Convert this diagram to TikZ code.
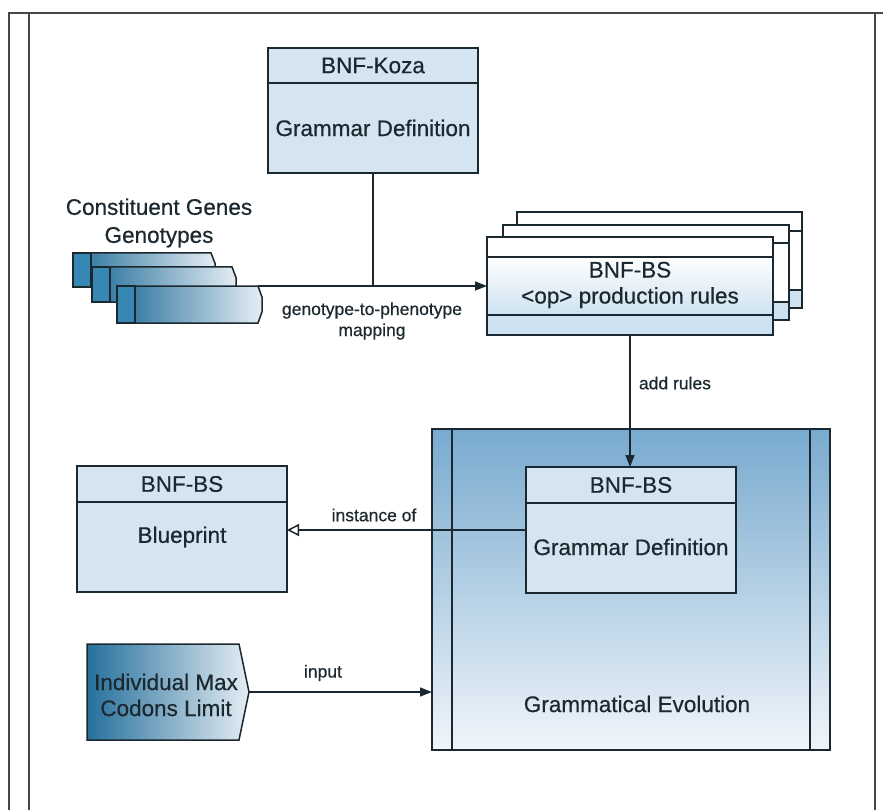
\documentclass[tikz,border=0pt]{standalone}
\usepackage{fontspec}
\setmainfont[FakeBold=0.5]{Liberation Sans}
\usetikzlibrary{arrows.meta}
\definecolor{ink}{RGB}{28,40,48}
\definecolor{framec}{RGB}{70,70,70}
\definecolor{boxfill}{RGB}{212,229,241}
\definecolor{prodblue}{RGB}{205,225,240}
\definecolor{getop}{RGB}{120,170,207}
\definecolor{gebot}{RGB}{240,245,250}
\definecolor{tabdark}{RGB}{38,112,155}
\definecolor{tablight}{RGB}{228,237,243}
\definecolor{tabmid}{RGB}{55,135,180}
\begin{document}
\begin{tikzpicture}[x=1pt,y=-1pt,line width=1.5pt,
  ink/.style={draw=ink},
  main/.style={text=ink,inner sep=0pt,font=\fontsize{22.5}{26}\selectfont,align=center},
  lbl/.style={text=ink,inner sep=0pt,font=\fontsize{17.5}{21}\selectfont,align=center},
  boxnode/.style={draw=ink,inner sep=0pt,outer sep=0pt},
  arr/.style={draw=ink,-{Triangle[length=12pt,width=9pt]}},
  openarr/.style={draw=ink,-{Triangle[open,length=12pt,width=12pt,fill=white]}}]
\useasboundingbox (0,0) rectangle (883,810);
\fill[white] (0,0) rectangle (883,810);
% frame
\draw[framec,line width=1.5pt] (9,810) -- (9,13) -- (883,13);
\draw[framec,line width=1.5pt] (29,13) -- (29,810);
\draw[framec,line width=1.5pt] (875,13) -- (875,810);

% BNF-Koza
\node[boxnode,fill=boxfill,minimum width=210pt,minimum height=125pt] (koza) at (373,110.5) {};
\draw[ink] (koza.north west) ++(0,35) -- ++(210,0);
\node[main] (kozah) at (373,65.5) {BNF-Koza};
\node[main] (kozab) at (373,128) {Grammar Definition};

% Constituent genes tabs
\node[main,align=center] (cgtext) at (159,223) {Constituent Genes\\[2pt]Genotypes};
\foreach \xa/\xb/\ya/\yb [count=\i] in {73/211/253/287, 92/232/267/302, 117/258/286/323}{
  \pgfmathsetmacro{\h}{\yb-\ya}
  \shadedraw[ink,left color=tabdark,right color=tablight]
    (\xa,\ya) -- (\xb,\ya) -- (\xb+4,\ya+0.3*\h) -- (\xb+4,\yb-0.3*\h) -- (\xb,\yb) -- (\xa,\yb) -- cycle;
  \filldraw[ink,fill=tabmid] (\xa,\ya) rectangle (\xa+18,\yb);
}
\coordinate (g2p) at (258,286);

% production rules stack
\foreach \cx/\cy/\w/\h/\la/\lb in {659.5/260/285/96/19/18, 646/272.5/286/95/18/18}{
  \fill[white] (\cx-\w/2,\cy-\h/2) rectangle (\cx+\w/2,\cy+\h/2-\lb);
  \fill[prodblue] (\cx-\w/2,\cy+\h/2-\lb) rectangle (\cx+\w/2,\cy+\h/2);
  \draw[ink] (\cx-\w/2,\cy-\h/2) rectangle (\cx+\w/2,\cy+\h/2);
  \draw[ink] (\cx-\w/2,\cy-\h/2+\la) -- (\cx+\w/2,\cy-\h/2+\la);
  \draw[ink] (\cx-\w/2,\cy+\h/2-\lb) -- (\cx+\w/2,\cy+\h/2-\lb);
}
\fill[white] (487,237) rectangle (773,257);
\shade[top color=white,bottom color=prodblue] (487,257) rectangle (773,315);
\fill[prodblue] (487,315) rectangle (773,335);
\node[boxnode,minimum width=286pt,minimum height=98pt] (prod) at (630,286) {};
\draw[ink] (prod.north west) ++(0,20) -- ++(286,0);
\draw[ink] (prod.south west) ++(0,-20) -- ++(286,0);
\node[main] (prodt) at (630,285) {BNF-BS\\<op> production rules};

% Grammatical Evolution
\node[boxnode,top color=getop,bottom color=gebot,minimum width=398pt,minimum height=321pt] (ge) at (631,589.5) {};
\draw[ink] (ge.north west) ++(20,0) -- ++(0,321);
\draw[ink] (ge.north east) ++(-20,0) -- ++(0,321);
\node[main] (get) at (637,704) {Grammatical Evolution};

\node[boxnode,fill=boxfill,minimum width=210pt,minimum height=126pt] (gedef) at (631,530) {};
\draw[ink] (gedef.north west) ++(0,36) -- ++(210,0);
\node[main] (gedefh) at (631,485) {BNF-BS};
\node[main] (gedefb) at (631,547) {Grammar Definition};

% Blueprint
\node[boxnode,fill=boxfill,minimum width=210pt,minimum height=126pt] (blue) at (182,529) {};
\draw[ink] (blue.north west) ++(0,36) -- ++(210,0);
\node[main] (blueh) at (182,484) {BNF-BS};
\node[main] (blueb) at (182,537) {Blueprint};

% Individual max codons
\shadedraw[ink,left color=tabdark,right color=tablight]
  (87,644) -- (239,644) -- (249,692) -- (239,740) -- (87,740) -- cycle;
\coordinate (imaxtip) at (249,692);
\node[main] (imax) at (166,695) {Individual Max\\Codons Limit};

% connectors
\draw[ink] (koza.south) -- (koza.south |- g2p);
\draw[arr] (g2p) -- (prod.west);
\node[lbl] (g2plbl) at (372,321) {genotype-to-phenotype\\mapping};
\draw[arr] (prod.south) -- (prod.south |- gedef.north);
\node[lbl] (addlbl) at (675,383) {add rules};
\draw[openarr] (gedef.west) -- (gedef.west -| blue.east);
\node[lbl] (instlbl) at (374,515) {instance of};
\draw[arr] (imaxtip) -- (imaxtip -| ge.west);
\node[lbl] (inlbl) at (323,673) {input};
\end{tikzpicture}
\end{document}
